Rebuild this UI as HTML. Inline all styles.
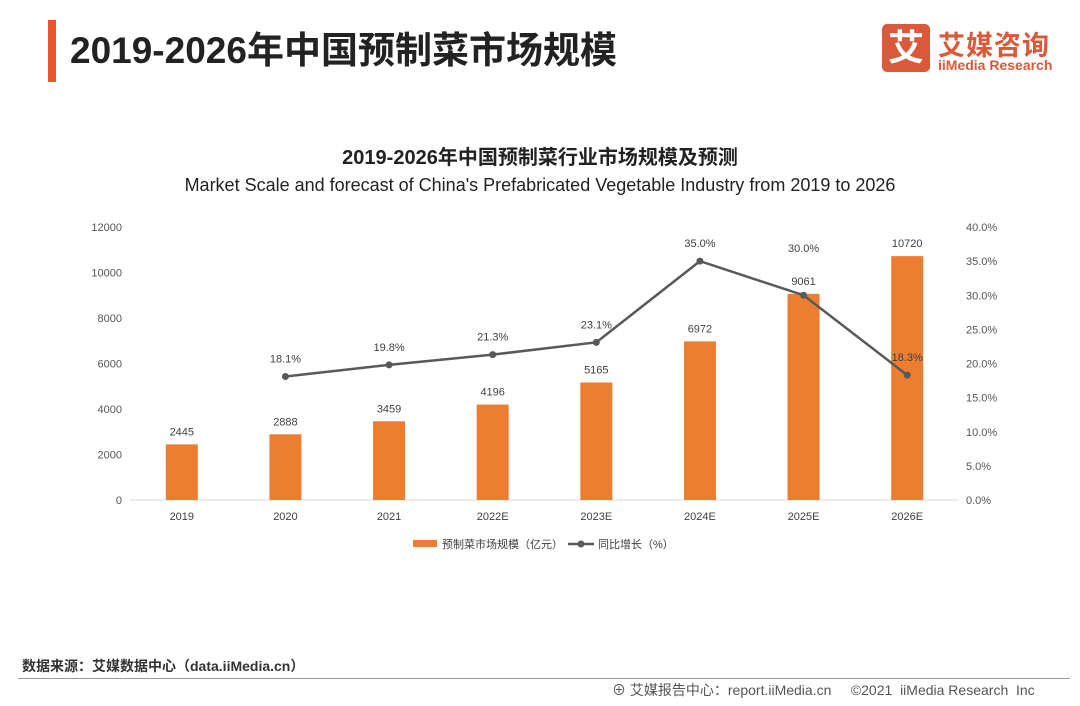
<!DOCTYPE html>
<html><head><meta charset="utf-8"><style>
body{margin:0;width:1080px;height:706px;background:#fff;font-family:"Liberation Sans","Noto Sans CJK SC",sans-serif;position:relative;overflow:hidden}
.a{position:absolute}
</style></head><body>
<div class="a" style="left:48px;top:20px;width:8px;height:62px;background:#e8552b"></div>
<div class="a" style="left:70px;top:20px;font-size:37px;font-weight:bold;color:#222">2019-2026年中国预制菜市场规模</div>
<div class="a" style="left:882px;top:24px;width:48px;height:48px;background:#d9593a;border-radius:5px;color:#fff;font-size:36px;line-height:48px;text-align:center;font-weight:bold">艾</div>
<div class="a" style="left:938px;top:24px;font-size:27px;color:#d9593a;font-weight:bold;letter-spacing:1px">艾媒咨询</div>
<div class="a" style="left:938px;top:57px;font-size:14px;color:#d9593a;font-weight:bold">iiMedia Research</div>
<div class="a" style="left:0;width:1080px;top:141px;text-align:center;font-size:20px;font-weight:bold;color:#222">2019-2026年中国预制菜行业市场规模及预测</div>
<div class="a" style="left:0;width:1080px;top:175px;text-align:center;font-size:18px;color:#222">Market Scale and forecast of China's Prefabricated Vegetable Industry from 2019 to 2026</div>
<svg class="a" style="left:0;top:0" width="1080" height="706" font-family="Liberation Sans, Noto Sans CJK SC, sans-serif">
<g id="g"></g>
</svg>
<div class="a" style="left:22px;top:656px;font-size:14px;color:#333;font-weight:bold">数据来源：艾媒数据中心（data.iiMedia.cn）</div>
<div class="a" style="left:18px;top:678px;width:1052px;height:1px;background:#999"></div>
<div class="a" style="left:612px;top:680px;font-size:14px;color:#555">⊕ 艾媒报告中心：report.iiMedia.cn &nbsp;&nbsp;&nbsp; ©2021 &nbsp;iiMedia Research &nbsp;Inc</div>
<script>
const categories=["2019","2020","2021","2022E","2023E","2024E","2025E","2026E"];
const marketValues=[2445,2888,3459,4196,5165,6972,9061,10720];
const growthValues=[null,18.1,19.8,21.3,23.1,35.0,30.0,18.3];
const leftTicks=[0,2000,4000,6000,8000,10000,12000];
const rightTicks=[0,5,10,15,20,25,30,35,40];
const NS="http://www.w3.org/2000/svg",g=document.getElementById('g');
const x0=130,x1=959,y0=500,yT=227,step=(x1-x0)/categories.length;
const yL=v=>y0-v/12000*(y0-yT), yR=v=>y0-v/40*(y0-yT), xC=i=>x0+step*(i+0.5);
function el(t,a,txt){const e=document.createElementNS(NS,t);for(const k in a)e.setAttribute(k,a[k]);if(txt!=null)e.textContent=txt;g.appendChild(e);return e;}
let e=el('line',{x1:x0,x2:x1,y1:y0,y2:y0,stroke:'#d9d9d9'});

leftTicks.forEach(v=>{const t=el('text',{x:122,y:yL(v)+4,'text-anchor':'end','font-size':11,fill:'#555'},v);
});
rightTicks.forEach(v=>{const t=el('text',{x:966,y:yR(v)+4,'font-size':11,fill:'#555'},v.toFixed(1)+'%');
});
categories.forEach((c,i)=>{
const b=el('rect',{x:xC(i)-16,y:yL(marketValues[i]),width:32,height:y0-yL(marketValues[i]),fill:'#ed7d31'});

const l=el('text',{x:xC(i),y:yL(marketValues[i])-9,'text-anchor':'middle','font-size':11,fill:'#404040'},marketValues[i]);

const xl=el('text',{x:xC(i),y:520,'text-anchor':'middle','font-size':11,fill:'#404040'},c);
});
let d='';growthValues.forEach((v,i)=>{if(v==null)return;d+=(d?'L':'M')+xC(i)+','+yR(v);});
const p=el('path',{d:d,fill:'none',stroke:'#595959','stroke-width':2.5});

growthValues.forEach((v,i)=>{if(v==null)return;
const c=el('circle',{cx:xC(i),cy:yR(v),r:3.5,fill:'#595959'});

let ly=yR(v)-14;
const by=yL(marketValues[i]);
if(Math.abs(ly-(by-9))<16) ly=by-42;
const t=el('text',{x:xC(i),y:ly,'text-anchor':'middle','font-size':11,fill:'#404040'},v.toFixed(1)+'%');
});
const lr=el('rect',{x:413,y:540,width:24,height:7,fill:'#ed7d31'});

const lt=el('text',{x:442,y:548,'font-size':11,fill:'#404040'},'预制菜市场规模（亿元）');

const ll=el('line',{x1:568,x2:594,y1:544,y2:544,stroke:'#595959','stroke-width':2.5});

const lc=el('circle',{cx:581,cy:544,r:3.5,fill:'#595959'});

const lt2=el('text',{x:598,y:548,'font-size':11,fill:'#404040'},'同比增长（%）');

</script>
</body></html>
